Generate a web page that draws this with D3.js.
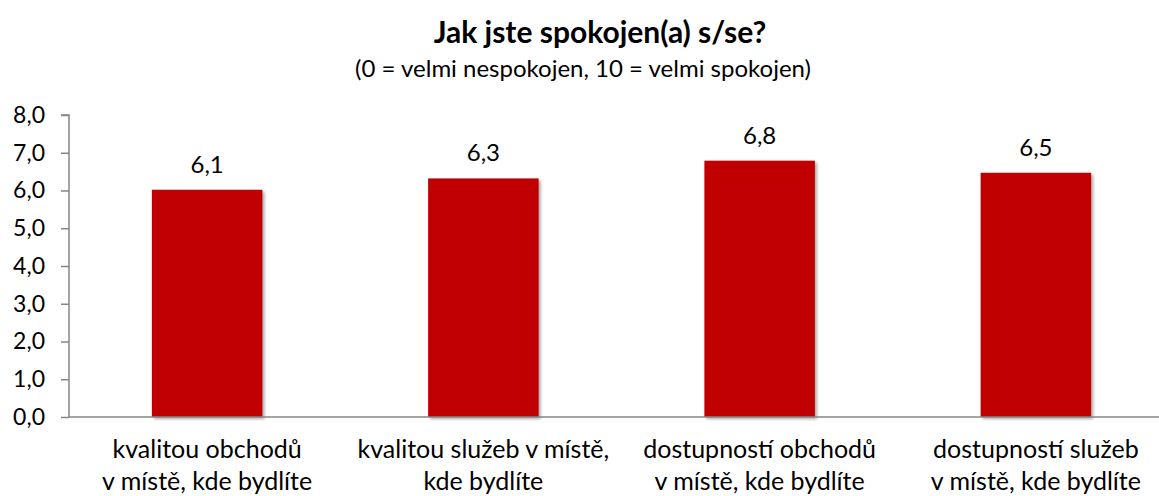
<!DOCTYPE html>
<html>
<head>
<meta charset="utf-8">
<script src="https://cdn.jsdelivr.net/npm/d3@7"></script>
<style>
  body { margin: 0; background: #fff; }
  text { font-family: Lato, "Open Sans", sans-serif; fill: #000; }
</style>
</head>
<body>
<div id="chart"></div>
<script>
var categories = [
    ["kvalitou obchodů", "v místě, kde bydlíte"],
    ["kvalitou služeb v místě,", "kde bydlíte"],
    ["dostupností obchodů", "v místě, kde bydlíte"],
    ["dostupností služeb", "v místě, kde bydlíte"]
];
var values = [6.02, 6.32, 6.79, 6.47];
var valueLabels = ["6,1", "6,3", "6,8", "6,5"];
var yTicks = [0, 1, 2, 3, 4, 5, 6, 7, 8];

var width = 1159, height = 496;
var margin = {top: 115, left: 69, bottom: 79};
var plotRight = 1174; // axis runs off the right edge like in the original

var svg = d3.select("#chart").append("svg")
    .attr("width", width)
    .attr("height", height);

// soft shadow under bars
var defs = svg.append("defs");
var f = defs.append("filter").attr("id", "shadow")
    .attr("x", "-10%").attr("y", "-10%").attr("width", "130%").attr("height", "130%");
f.append("feDropShadow")
    .attr("dx", 2).attr("dy", 2).attr("stdDeviation", 1.8)
    .attr("flood-color", "#000").attr("flood-opacity", 0.35);

var x = d3.scaleBand()
    .domain(d3.range(categories.length))
    .range([margin.left, plotRight])
    .paddingInner(0.6)
    .paddingOuter(0.3);

var y = d3.scaleLinear()
    .domain([0, 8])
    .range([height - margin.bottom, margin.top]);

// title
svg.append("text")
    .attr("x", 600).attr("y", 43)
    .attr("text-anchor", "middle")
    .style("font-size", "30px")
    .style("font-weight", "bold")
    .text("Jak jste spokojen(a) s/se?");

svg.append("text")
    .attr("x", 583).attr("y", 77)
    .attr("text-anchor", "middle")
    .style("font-size", "24px")
    .text("(0 = velmi nespokojen, 10 = velmi spokojen)");

// bars
svg.selectAll(".bar")
    .data(values)
    .enter()
    .append("rect")
    .attr("class", "bar")
    .attr("x", function (d, i) { return x(i); })
    .attr("y", function (d) { return y(d); })
    .attr("width", x.bandwidth())
    .attr("height", function (d) { return y(0) - y(d); })
    .style("fill", "#C00000")
    .attr("filter", "url(#shadow)");

// value labels
svg.selectAll(".val")
    .data(values)
    .enter()
    .append("text")
    .attr("class", "val")
    .attr("x", function (d, i) { return x(i) + x.bandwidth() / 2; })
    .attr("y", function (d) { return y(d) - 17; })
    .attr("text-anchor", "middle")
    .style("font-size", "24px")
    .text(function (d, i) { return valueLabels[i]; });

// y axis
var yAxis = svg.append("g")
    .attr("transform", "translate(" + margin.left + ",0)")
    .call(d3.axisLeft(y).tickValues(yTicks).tickSize(8).tickPadding(16)
        .tickFormat(function (d) { return d.toFixed(1).replace(".", ","); }));
yAxis.select(".domain").attr("stroke", "#868686").attr("stroke-width", 1.5)
    .attr("d", "M-8," + y(8) + "H0V" + y(0));
yAxis.selectAll(".tick line").attr("stroke", "#868686").attr("stroke-width", 1.5);
yAxis.selectAll(".tick text").style("font-size", "23px").attr("fill", "#000")
    .style("font-family", "Lato, sans-serif");

// x axis line
svg.append("line")
    .attr("x1", margin.left).attr("x2", plotRight)
    .attr("y1", y(0)).attr("y2", y(0))
    .attr("stroke", "#868686").attr("stroke-width", 1.5);

// category labels
var cat = svg.selectAll(".cat")
    .data(categories)
    .enter()
    .append("text")
    .attr("class", "cat")
    .attr("text-anchor", "middle")
    .style("font-size", "25px")
    .attr("transform", function (d, i) {
        return "translate(" + (x(i) + x.bandwidth() / 2) + "," + (y(0) + 41) + ")";
    });
cat.selectAll("tspan")
    .data(function (d) { return d; })
    .enter()
    .append("tspan")
    .attr("x", 0)
    .attr("dy", function (d, j) { return j === 0 ? 0 : 32; })
    .text(function (d) { return d; });
</script>
</body>
</html>
